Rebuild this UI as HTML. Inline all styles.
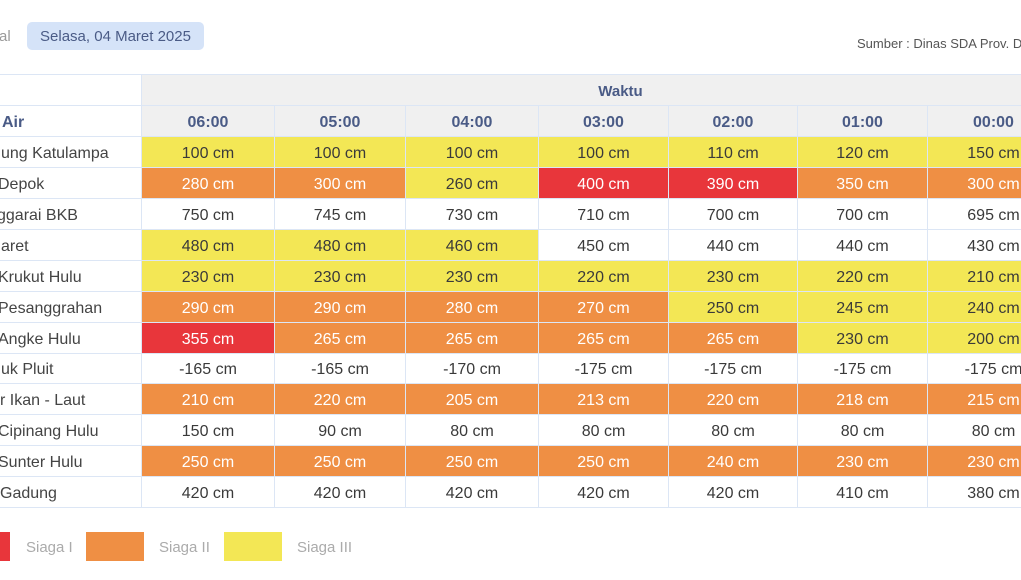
<!DOCTYPE html>
<html>
<head>
<meta charset="utf-8">
<style>
  html,body{margin:0;padding:0;}
  body{width:1021px;height:580px;overflow:hidden;background:#fff;position:relative;font-family:"Liberation Sans",sans-serif;}
  .tgl{position:absolute;left:-1px;top:28px;font-size:15px;color:#9a9a9a;line-height:18px;}
  .chip{position:absolute;left:27px;top:22px;width:177px;height:28px;background:#d5e3f8;border-radius:5px;color:#4a5b86;font-size:15px;line-height:30px;text-align:center;}
  .src{position:absolute;left:857px;top:36px;font-size:13px;color:#555;white-space:nowrap;line-height:16px;}
  .grid{position:absolute;left:-58px;top:74px;display:grid;
    grid-template-columns:199px 132px 130px 132px 129px 128px 129px 131px;
    grid-template-rows:30px 30px 30px 30px 30px 30px 30px 30px 30px 29px 30px 30px 30px 30px;
    column-gap:1px;row-gap:1px;background:#dce6f5;padding:1px 0;}
  .grid>div{display:flex;align-items:center;justify-content:center;font-size:16px;color:#3a3a3a;white-space:nowrap;overflow:hidden;background:#fff;padding-top:3px;box-sizing:border-box;}
  .grid>div.l{justify-content:flex-start;color:#444;}
  .h{background:#f0f0f0 !important;color:#4a5b86 !important;font-weight:bold;}
  .hw{grid-column:2 / span 7;padding-left:40px;font-size:15px !important;}
  .y{background:#f3e755 !important;color:#3a3a3a;}
  .o{background:#ef8f44 !important;color:#fff !important;}
  .r{background:#e8363b !important;color:#fff !important;}
  .leg{position:absolute;top:532px;height:29px;width:58px;}
  .lt{position:absolute;top:539px;font-size:15px;color:#ababab;line-height:18px;}
</style>
</head>
<body>
<div class="tgl">al</div>
<div class="chip">Selasa, 04 Maret 2025</div>
<div class="src">Sumber : Dinas SDA Prov. DKI</div>

<div class="grid">
  <div class="l"></div><div class="h hw">Waktu</div>
  <div class="l" style="color:#4a5b86;font-weight:bold;"><span style="margin-left:60px">Air</span></div>
  <div class="h">06:00</div><div class="h">05:00</div><div class="h">04:00</div><div class="h">03:00</div><div class="h">02:00</div><div class="h">01:00</div><div class="h">00:00</div>

  <div class="l"><span style="margin-left:59px">ung Katulampa</span></div>
  <div class="y">100 cm</div><div class="y">100 cm</div><div class="y">100 cm</div><div class="y">100 cm</div><div class="y">110 cm</div><div class="y">120 cm</div><div class="y">150 cm</div>

  <div class="l"><span style="margin-left:56px">Depok</span></div>
  <div class="o">280 cm</div><div class="o">300 cm</div><div class="y">260 cm</div><div class="r">400 cm</div><div class="r">390 cm</div><div class="o">350 cm</div><div class="o">300 cm</div>

  <div class="l"><span style="margin-left:55px">ggarai BKB</span></div>
  <div>750 cm</div><div>745 cm</div><div>730 cm</div><div>710 cm</div><div>700 cm</div><div>700 cm</div><div>695 cm</div>

  <div class="l"><span style="margin-left:59px">aret</span></div>
  <div class="y">480 cm</div><div class="y">480 cm</div><div class="y">460 cm</div><div>450 cm</div><div>440 cm</div><div>440 cm</div><div>430 cm</div>

  <div class="l"><span style="margin-left:56px">Krukut Hulu</span></div>
  <div class="y">230 cm</div><div class="y">230 cm</div><div class="y">230 cm</div><div class="y">220 cm</div><div class="y">230 cm</div><div class="y">220 cm</div><div class="y">210 cm</div>

  <div class="l"><span style="margin-left:56px">Pesanggrahan</span></div>
  <div class="o">290 cm</div><div class="o">290 cm</div><div class="o">280 cm</div><div class="o">270 cm</div><div class="y">250 cm</div><div class="y">245 cm</div><div class="y">240 cm</div>

  <div class="l"><span style="margin-left:56px">Angke Hulu</span></div>
  <div class="r">355 cm</div><div class="o">265 cm</div><div class="o">265 cm</div><div class="o">265 cm</div><div class="o">265 cm</div><div class="y">230 cm</div><div class="y">200 cm</div>

  <div class="l"><span style="margin-left:59px">uk Pluit</span></div>
  <div>-165 cm</div><div>-165 cm</div><div>-170 cm</div><div>-175 cm</div><div>-175 cm</div><div>-175 cm</div><div>-175 cm</div>

  <div class="l"><span style="margin-left:58px">r Ikan - Laut</span></div>
  <div class="o">210 cm</div><div class="o">220 cm</div><div class="o">205 cm</div><div class="o">213 cm</div><div class="o">220 cm</div><div class="o">218 cm</div><div class="o">215 cm</div>

  <div class="l"><span style="margin-left:56px">Cipinang Hulu</span></div>
  <div>150 cm</div><div>90 cm</div><div>80 cm</div><div>80 cm</div><div>80 cm</div><div>80 cm</div><div>80 cm</div>

  <div class="l"><span style="margin-left:56px">Sunter Hulu</span></div>
  <div class="o">250 cm</div><div class="o">250 cm</div><div class="o">250 cm</div><div class="o">250 cm</div><div class="o">240 cm</div><div class="o">230 cm</div><div class="o">230 cm</div>

  <div class="l"><span style="margin-left:58px">Gadung</span></div>
  <div>420 cm</div><div>420 cm</div><div>420 cm</div><div>420 cm</div><div>420 cm</div><div>410 cm</div><div>380 cm</div>
</div>

<div class="leg" style="left:-48px;background:#e8363b;"></div>
<div class="lt" style="left:26px;">Siaga I</div>
<div class="leg" style="left:86px;background:#ef8f44;"></div>
<div class="lt" style="left:159px;">Siaga II</div>
<div class="leg" style="left:224px;background:#f3e755;"></div>
<div class="lt" style="left:297px;">Siaga III</div>
</body>
</html>
